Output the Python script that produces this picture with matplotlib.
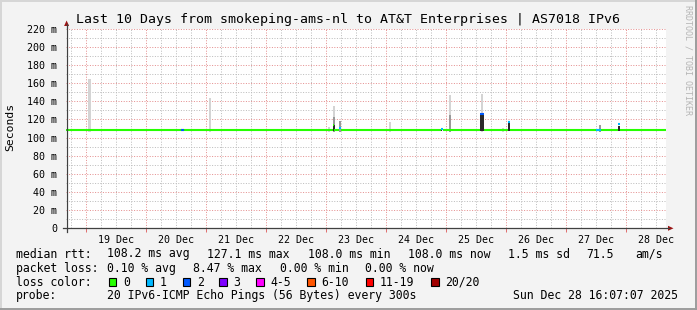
import matplotlib
matplotlib.use("Agg")
import matplotlib.pyplot as plt
from matplotlib.patches import Rectangle, Polygon
from matplotlib.lines import Line2D

W, H = 697, 310
MONO = "DejaVu Sans Mono"

# time axis in days since 18 Dec 00:00, graph ends Sun Dec 28 16:07
T_END = 10 + (16 + 7 / 60) / 24
T_START = T_END - 10

day_labels = ["19 Dec", "20 Dec", "21 Dec", "22 Dec", "23 Dec",
              "24 Dec", "25 Dec", "26 Dec", "27 Dec", "28 Dec"]
y_ticks = [0, 20, 40, 60, 80, 100, 120, 140, 160, 180, 200, 220]

base_rtt = 108.0

# smoke (spread of the pings), light / medium / dark layers, ms
smoke_light_day = [1.062, 3.065, 5.058, 5.142, 6.065, 7.070, 7.603, 7.948, 9.565]
smoke_light_top = [165, 144, 112, 135, 117, 147, 148, 111, 110]
smoke_mid_day = [5.142, 5.237, 7.070, 9.565]
smoke_mid_top = [123, 118, 125, 114]
smoke_dark_day = [5.130, 6.925, 7.603, 8.053, 9.887]
smoke_dark_top = [114, 111, 127, 118, 113]
smoke_dark_hours = [0.8, 0.6, 1.4, 0.8, 0.8]

# median points that are not plain green / not at baseline
med_day = [2.608, 5.125, 5.237, 6.937, 7.603, 8.053, 9.545, 9.887]
med_rtt = [108.0, 113.5, 111.0, 109.5, 126.0, 117.0, 108.0, 114.5]
med_loss = [2, 0, 1, 1, 2, 1, 1, 1]
med_hours = [1.2, 0.6, 0.6, 0.8, 1.4, 0.6, 2.0, 0.6]

loss_labels = ["0", "1", "2", "3", "4-5", "6-10", "11-19", "20/20"]
loss_colors = ["#26ff00", "#00b8ff", "#0059ff", "#7e00ff",
               "#ff00ff", "#ff5500", "#ff0000", "#a10000"]


def fx(px):
    return px / W


def fy(py):
    return 1 - py / H


fig = plt.figure(figsize=(W / 100, H / 100), dpi=100, facecolor="#f3f3f3")
ax = fig.add_axes([fx(66.1), fy(228.3), 600 / W, 199.5 / H])
ax.set_facecolor("white")
ax.set_xlim(T_START, T_END)
ax.set_ylim(0, 220)

# ---------------------------------------------------
# grid (dotted)
# ---------------------------------------------------
GRID = dict(lw=0.72, ls=(0, (1, 1.6)))
k = int(T_START * 4) + 1
while k / 4 < T_END:
    t = k / 4
    if k % 4:
        ax.axvline(t, color="#bdbdbd", zorder=0, **GRID)
    k += 1
for v in range(10, 220, 20):
    ax.axhline(v, color="#bdbdbd", zorder=0, **GRID)
for d in range(1, 11):
    ax.axvline(d, color="#e59090", zorder=0.5, **GRID)
for v in y_ticks[1:]:
    ax.axhline(v, color="#e59090", zorder=0.5, **GRID)

# ---------------------------------------------------
# smoke + median
# ---------------------------------------------------
bar_w = 2.2 / 60
ax.bar(smoke_light_day, [t - 106 for t in smoke_light_top], bottom=106,
       width=bar_w, color="#d4d4d4", lw=0, zorder=2)
ax.bar(smoke_mid_day, [t - 106 for t in smoke_mid_top], bottom=106,
       width=bar_w, color="#999999", lw=0, zorder=3)
ax.bar(smoke_dark_day, [t - 107 for t in smoke_dark_top], bottom=107,
       width=[h / 24 for h in smoke_dark_hours], color="#2a2a2a", lw=0, zorder=4)

# green median line, broken where the median jumps up
gaps = sorted((d - h / 48, d + h / 48) for d, r, h in zip(med_day, med_rtt, med_hours)
              if r > base_rtt + 1)
start = T_START
for g0, g1 in gaps:
    ax.plot([start, g0], [base_rtt, base_rtt], color=loss_colors[0], lw=1.5,
            solid_capstyle="butt", zorder=5)
    start = g1
ax.plot([start, T_END], [base_rtt, base_rtt], color=loss_colors[0], lw=1.5,
        solid_capstyle="butt", zorder=5)

for d, r, l, h in zip(med_day, med_rtt, med_loss, med_hours):
    ax.plot([d - h / 48, d + h / 48], [r, r], color=loss_colors[l], lw=1.5,
            solid_capstyle="butt", zorder=6)

# ---------------------------------------------------
# axes
# ---------------------------------------------------
for s in ax.spines.values():
    s.set_visible(False)
ax.set_xticks([d + 0.5 for d in range(1, 11)])
ax.set_xticklabels(day_labels, fontfamily=MONO, fontsize=7.2)
ax.set_xticks(range(1, 11), minor=True)
ax.tick_params(axis="x", which="major", length=0, pad=5)
ax.tick_params(axis="x", which="minor", length=3, color="#e07070", width=0.72)
ax.set_yticks(y_ticks)
ax.set_yticklabels(["0" if v == 0 else f"{v} m" for v in y_ticks],
                   fontfamily=MONO, fontsize=7.2)
ax.tick_params(axis="y", length=0, pad=6.5)

axis_col = "#404040"
fig.add_artist(Line2D([fx(62.5), fx(669)], [fy(228.3), fy(228.3)],
                      color=axis_col, lw=0.9))
fig.add_artist(Line2D([fx(66.6), fx(66.6)], [fy(232), fy(24)],
                      color=axis_col, lw=0.9))
arrow_col = "#9c1414"
fig.add_artist(Polygon([(fx(64.1), fy(26)), (fx(69.1), fy(26)), (fx(66.6), fy(20.5))],
                       closed=True, color=arrow_col, lw=0))
fig.add_artist(Polygon([(fx(668), fy(225.8)), (fx(668), fy(230.8)), (fx(673.5), fy(228.3))],
                       closed=True, color=arrow_col, lw=0))

# ---------------------------------------------------
# texts
# ---------------------------------------------------
fig.text(0.5, fy(19), "Last 10 Days from smokeping-ams-nl to AT&T Enterprises | AS7018 IPv6",
         ha="center", va="center", fontfamily=MONO, fontsize=9.5, color="black")
fig.text(fx(10), fy(127), "Seconds", rotation=90, ha="center", va="center",
         fontfamily=MONO, fontsize=8.2)
fig.text(fx(688), fy(5), "RRDTOOL / TOBI OETIKER", rotation=270, ha="center", va="top",
         fontfamily=MONO, fontsize=6, color="#b5b5b5")

LEG = dict(fontfamily=MONO, fontsize=8.3, va="center", color="black")
row1 = [(16, "median rtt:"), (107.3, "108.2 ms avg"), (207.3, "127.1 ms max"),
        (308, "108.0 ms min"), (407.7, "108.0 ms now"), (507.7, "1.5 ms sd"),
        (586.7, "71.5"), (635.7, "am/s")]
row2 = [(16, "packet loss:"), (107.3, "0.10 % avg"), (193.4, "8.47 % max"),
        (279.5, "0.00 % min"), (365.3, "0.00 % now")]
for x, s in row1:
    fig.text(fx(x), fy(254), s, **LEG)
for x, s in row2:
    fig.text(fx(x), fy(268.3), s, **LEG)

fig.text(fx(16), fy(282.3), "loss color:", **LEG)
sq_x = [108.7, 145.7, 182.7, 219.3, 256.3, 307.3, 365.7, 431]
for x, lab, col in zip(sq_x, loss_labels, loss_colors):
    fig.add_artist(Rectangle((fx(x), fy(286.3)), 7.5 / W, 8 / H, transform=fig.transFigure,
                             facecolor=col, edgecolor="black", lw=0.8))
    fig.text(fx(x + 14.3), fy(282.3), lab, **LEG)

fig.text(fx(16), fy(295.7), "probe:", **LEG)
fig.text(fx(107.3), fy(295.7), "20 IPv6-ICMP Echo Pings (56 Bytes) every 300s", **LEG)
fig.text(fx(513.3), fy(295.7), "Sun Dec 28 16:07:07 2025", **LEG)

# 3d frame
fig.add_artist(Line2D([0, 1], [fy(0.5), fy(0.5)], color="#d6d6d6", lw=1.4))
fig.add_artist(Line2D([fx(0.5), fx(0.5)], [0, 1], color="#d6d6d6", lw=1.4))
fig.add_artist(Line2D([0, 1], [fy(309), fy(309)], color="#9c9c9c", lw=1.4))
fig.add_artist(Line2D([fx(696), fx(696)], [0, 1], color="#9c9c9c", lw=1.4))

fig.savefig("out.png", dpi=100, facecolor=fig.get_facecolor())
